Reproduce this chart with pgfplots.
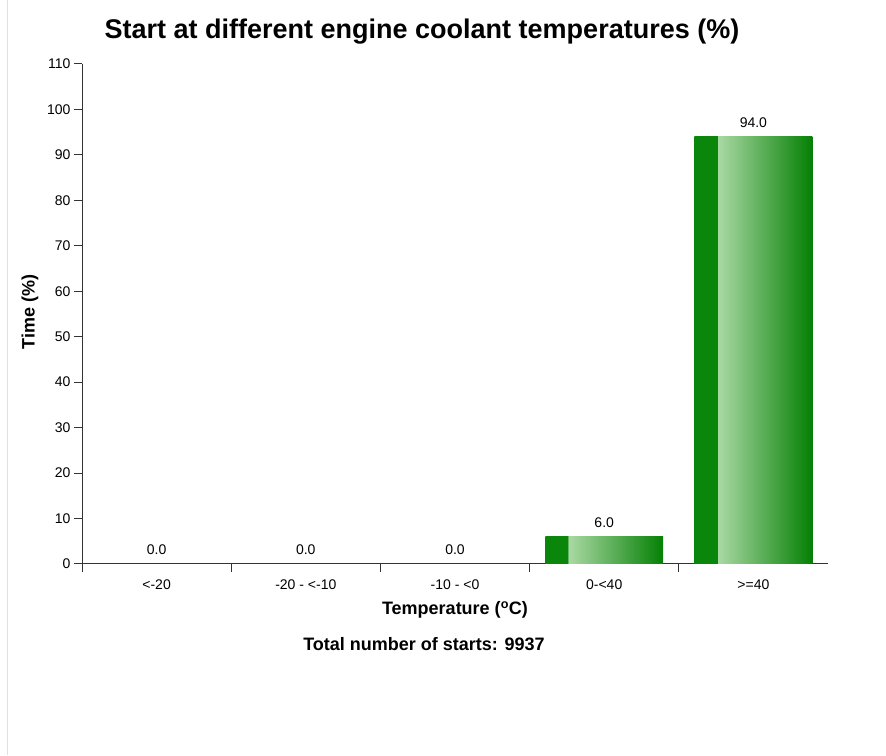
\documentclass[border=0pt]{standalone}
\usepackage{pgfplots}
\pgfplotsset{compat=1.18}
\usepackage{fontspec}
\setmainfont{Liberation Sans}
\definecolor{dkg}{HTML}{0A870A}
\definecolor{ltg}{HTML}{AAD9A4}
\definecolor{endg}{HTML}{048004}
\definecolor{axc}{HTML}{333333}
\pgfdeclarehorizontalshading{barshade}{100bp}{color(0bp)=(dkg); color(25bp)=(dkg); color(34.7bp)=(dkg); color(34.8bp)=(ltg); color(75bp)=(endg); color(100bp)=(endg)}
\begin{document}
\begin{tikzpicture}
\useasboundingbox (0,0) rectangle (886pt,755pt);
\draw[black!12, line width=0.8pt] (7pt,0pt) -- (7pt,755pt);
\begin{axis}[at={(82pt,191pt)}, anchor=south west, scale only axis,
  width=746pt, height=500pt,
  xmin=-0.5, xmax=4.5, ymin=0, ymax=110,
  axis x line=bottom, axis y line=left,
  axis line style={-, draw=axc, line width=1pt},
  ytick={0,10,...,110},
  xtick={0,1,2,3,4},
  xticklabels={{<-20},{-20 - <-10},{-10 - <0},{0-<40},{>=40}},
  minor xtick={-0.5,0.5,1.5,2.5,3.5},
  major x tick style={draw=none},
  tick align=outside,
  major tick length=8pt, minor tick length=8pt,
  every tick/.style={draw=axc, line width=1pt},
  ticklabel style={font=\fontsize{14}{16}\selectfont},
  xticklabel style={yshift=-4pt},
  /pgf/number format/.cd, assume math mode=true,
]
\addplot[ybar, bar width=0.79, bar shift=0pt, draw=none, shading=barshade]
  coordinates {(3,6.0)};
\addplot[ybar, bar width=0.79, bar shift=0pt, draw=none, shading=barshade]
  coordinates {(4,94.0)};
\addplot[ybar, bar width=0.79, bar shift=0pt, draw=none, fill=none,
  nodes near coords,
  every node near coord/.append style={font=\fontsize{14}{16}\selectfont, anchor=base, yshift=9pt},
  /pgf/number format/.cd, fixed, fixed zerofill, precision=1, assume math mode=true]
  coordinates {(0,0.0) (1,0.0) (2,0.0) (3,6.0) (4,94.0)};
\end{axis}
\node[font=\bfseries\fontsize{27}{31}\selectfont] at (422pt,723pt) {Start at different engine coolant temperatures (\%)};
\node[font=\bfseries\fontsize{18}{21}\selectfont, rotate=90] at (30pt,443pt) {Time (\%)};
\node[font=\bfseries\fontsize{18}{21}\selectfont] at (455pt,145pt) {Temperature (\textsuperscript{o}C)};
\node[font=\bfseries\fontsize{18}{21}\selectfont] at (424pt,111pt) {Total number of starts: 9937};
\end{tikzpicture}
\end{document}
